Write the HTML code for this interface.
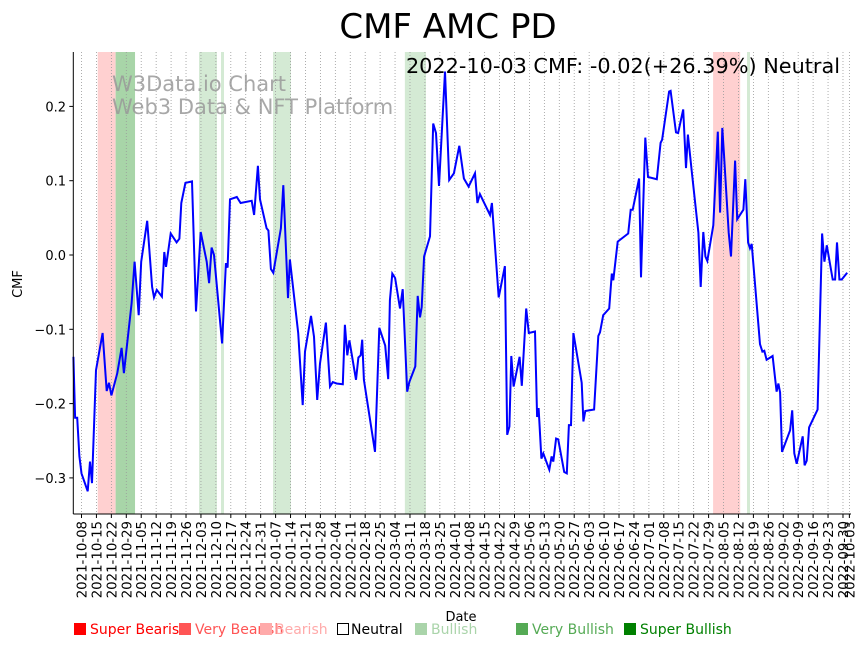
<!DOCTYPE html>
<html><head><meta charset="utf-8"><style>
body{margin:0;background:#fff;}
svg{display:block;font-family:"DejaVu Sans","Liberation Sans",sans-serif;}
</style></head><body>
<svg id="chart" width="867" height="646" viewBox="0 0 867 646">
<text x="448" y="38" font-size="34" text-anchor="middle">CMF AMC PD</text>
<g id="bands"></g>
<g id="grid"></g>
<g id="xticks"></g>
<g id="yticks"></g>
<path id="line" fill="none" stroke="#0000ff" stroke-width="2"/>
<line x1="73.3" y1="52" x2="73.3" y2="514" stroke="#000" stroke-width="1"/>
<line x1="73.3" y1="514" x2="851" y2="514" stroke="#000" stroke-width="1"/>
<text x="112" y="91" font-size="21" fill="#999" fill-opacity="0.85">W3Data.io Chart</text>
<text x="112" y="114" font-size="21" fill="#999" fill-opacity="0.85">Web3 Data &amp; NFT Platform</text>
<text x="840" y="73" font-size="20.8" text-anchor="end">2022-10-03 CMF: -0.02(+26.39%) Neutral</text>
<text transform="translate(22,284) rotate(-90)" font-size="13" text-anchor="middle">CMF</text>
<text x="461" y="621" font-size="13" text-anchor="middle">Date</text>
<g font-size="14">
<rect x="74" y="623" width="12" height="12" fill="#ff0000"/>
<text x="90" y="634" fill="#ff0000">Super Bearish</text>
<rect x="179" y="623" width="12" height="12" fill="#ff5555"/>
<text x="195" y="634" fill="#ff5555">Very Bearish</text>
<rect x="260" y="623" width="12" height="12" fill="#ffaaaa"/>
<text x="275" y="634" fill="#ffaaaa">Bearish</text>
<rect x="337.5" y="623.5" width="11" height="11" fill="#fff" stroke="#000"/>
<text x="351" y="634" fill="#000">Neutral</text>
<rect x="415" y="623" width="12" height="12" fill="#aad4aa"/>
<text x="431" y="634" fill="#aad4aa">Bullish</text>
<rect x="516" y="623" width="12" height="12" fill="#55aa55"/>
<text x="532" y="634" fill="#55aa55">Very Bullish</text>
<rect x="624" y="623" width="12" height="12" fill="#008000"/>
<text x="640" y="634" fill="#008000">Super Bullish</text>
</g>
</svg>
<script>
// days since 2021-10-08
const days = [-3.8,-3.0,-2.0,-1.0,0,2.9,4.0,4.9,6.8,9.9,11.8,12.9,14.0,16.8,18.8,19.9,23.5,24.9,26.8,28.0,30.8,33.1,34.0,35.3,37.7,38.8,39.6,41.8,44.6,45.9,46.8,48.7,51.8,53.7,55.9,58.7,59.8,61.0,62.1,65.9,67.7,68.5,69.6,72.8,74.6,79.8,80.9,82.7,83.7,86.8,87.6,88.8,89.9,93.5,94.6,96.8,97.7,101.6,103.7,104.8,107.6,109.0,110.5,111.8,114.6,116.5,117.8,119.6,122.5,123.5,124.6,125.6,128.7,129.8,130.9,131.6,132.4,137.6,139.6,142.4,143.8,144.6,145.7,147.0,149.3,150.6,152.7,153.7,156.5,157.6,158.7,159.5,160.6,163.4,164.9,166.2,167.6,170.4,172.4,174.6,177.1,179.3,181.5,184.5,185.6,186.8,191.5,192.4,195.6,198.5,199.6,200.6,201.5,202.6,205.4,206.4,208.5,209.7,212.6,213.6,214.3,215.6,216.5,219.3,220.4,221.2,222.5,223.5,226.3,227.5,228.5,229.5,230.6,234.5,235.3,236.2,240.3,242.3,243.1,244.6,247.4,248.6,249.3,251.4,256.3,257.5,258.4,261.4,262.3,264.3,265.6,269.7,271.5,272.2,275.5,276.2,278.7,279.7,282.1,283.4,284.3,286.1,289.2,290.3,291.5,292.5,293.4,296.2,298.3,299.4,300.4,301.2,303.4,304.5,306.4,307.4,310.3,311.2,312.5,313.4,314.2,318.1,319.2,320.1,321.2,324.0,325.9,326.7,327.5,328.4,332.2,333.2,334.2,335.3,338.1,339.0,340.0,341.1,345.1,347.2,348.3,349.4,352.2,353.3,354.2,355.3,356.4,359.0];
const cmf = [-0.137,-0.219,-0.219,-0.271,-0.294,-0.318,-0.278,-0.307,-0.155,-0.105,-0.183,-0.172,-0.189,-0.159,-0.125,-0.159,-0.065,-0.009,-0.081,-0.009,0.046,-0.043,-0.057,-0.047,-0.056,0.004,-0.016,0.029,0.017,0.022,0.070,0.097,0.099,-0.076,0.031,-0.009,-0.038,0.010,0.000,-0.119,-0.011,-0.017,0.075,0.078,0.070,0.073,0.054,0.120,0.075,0.036,0.033,-0.019,-0.024,0.036,0.094,-0.058,-0.006,-0.105,-0.202,-0.130,-0.082,-0.110,-0.195,-0.146,-0.091,-0.177,-0.171,-0.173,-0.174,-0.094,-0.135,-0.115,-0.168,-0.138,-0.135,-0.114,-0.168,-0.265,-0.098,-0.122,-0.167,-0.061,-0.025,-0.031,-0.072,-0.046,-0.184,-0.171,-0.150,-0.055,-0.084,-0.070,-0.002,0.025,0.177,0.164,0.093,0.247,0.101,0.110,0.147,0.103,0.092,0.110,0.070,0.082,0.054,0.070,-0.057,-0.015,-0.242,-0.231,-0.136,-0.177,-0.137,-0.176,-0.072,-0.105,-0.103,-0.218,-0.206,-0.274,-0.267,-0.289,-0.271,-0.278,-0.247,-0.248,-0.292,-0.294,-0.229,-0.229,-0.105,-0.172,-0.224,-0.210,-0.208,-0.109,-0.104,-0.081,-0.072,-0.025,-0.034,0.018,0.029,0.061,0.061,0.103,-0.030,0.158,0.105,0.102,0.151,0.155,0.220,0.221,0.165,0.164,0.196,0.117,0.162,0.112,0.030,-0.043,0.031,-0.002,-0.008,0.040,0.166,0.057,0.171,0.135,0.030,-0.002,0.127,0.048,0.061,0.102,0.017,0.009,0.015,-0.120,-0.130,-0.129,-0.141,-0.136,-0.184,-0.173,-0.185,-0.265,-0.236,-0.209,-0.267,-0.281,-0.244,-0.283,-0.277,-0.232,-0.208,0.029,-0.009,0.013,-0.033,-0.033,0.017,-0.033,-0.033,-0.024];
const tickDays = [0,7,14,21,28,35,42,49,56,63,70,77,84,91,98,105,112,119,126,133,140,147,154,161,168,175,182,189,196,203,210,217,224,231,238,245,252,259,266,273,280,287,294,301,308,315,322,329,336,343,350,357,360];
const tickLabels = ["2021-10-08","2021-10-15","2021-10-22","2021-10-29","2021-11-05","2021-11-12","2021-11-19","2021-11-26","2021-12-03","2021-12-10","2021-12-17","2021-12-24","2021-12-31","2022-01-07","2022-01-14","2022-01-21","2022-01-28","2022-02-04","2022-02-11","2022-02-18","2022-02-25","2022-03-04","2022-03-11","2022-03-18","2022-03-25","2022-04-01","2022-04-08","2022-04-15","2022-04-22","2022-04-29","2022-05-06","2022-05-13","2022-05-20","2022-05-27","2022-06-03","2022-06-10","2022-06-17","2022-06-24","2022-07-01","2022-07-08","2022-07-15","2022-07-22","2022-07-29","2022-08-05","2022-08-12","2022-08-19","2022-08-26","2022-09-02","2022-09-09","2022-09-16","2022-09-23","2022-09-30","2022-10-03"];
const yTicks = [0.2,0.1,0.0,-0.1,-0.2,-0.3];
const yTickLabels = ["0.2","0.1","0.0","−0.1","−0.2","−0.3"];
const bandStart = [7.6,16.0,55.1,65.4,89.8,151.6,296.1,312.0];
const bandEnd = [16.0,25.1,63.5,66.8,98.2,161.5,308.8,313.4];
const bandType = ["very-bearish","very-bullish","bullish","bullish","bullish","bullish","very-bearish","bullish"];

const NS="http://www.w3.org/2000/svg";
const X0=81.5, PXD=2.133, Y0=255, PXV=743, TOP=52, BOT=514;
function xs(d){return X0+d*PXD;}
function ys(v){return Y0-v*PXV;}
const bandColor={"very-bearish":"#ffd0d0","very-bullish":"#a8d5a8","bullish":"#d4ead4"};
const bands=document.getElementById('bands');
for(let i=0;i<bandStart.length;i++){
  const r=document.createElementNS(NS,'rect');
  
  
  r.setAttribute('x',xs(bandStart[i]));r.setAttribute('width',xs(bandEnd[i])-xs(bandStart[i]));
  r.setAttribute('y',TOP);r.setAttribute('height',BOT-TOP);
  r.setAttribute('fill',bandColor[bandType[i]]);
  bands.appendChild(r);
}
const grid=document.getElementById('grid'), xt=document.getElementById('xticks');
for(let i=0;i<tickDays.length;i++){
  const x=xs(tickDays[i]);
  const g=document.createElementNS(NS,'line');
  
  
  g.setAttribute('x1',x);g.setAttribute('x2',x);g.setAttribute('y1',TOP);g.setAttribute('y2',BOT);
  g.setAttribute('stroke','#999');g.setAttribute('stroke-width','0.8');g.setAttribute('stroke-dasharray','1,2');
  grid.appendChild(g);
  const t=document.createElementNS(NS,'line');
  
  
  t.setAttribute('x1',x);t.setAttribute('x2',x);t.setAttribute('y1',BOT);t.setAttribute('y2',BOT+4);
  t.setAttribute('stroke','#000');
  xt.appendChild(t);
  const l=document.createElementNS(NS,'text');
  
  
  l.setAttribute('transform','translate('+(x+5)+','+(BOT+7)+') rotate(-90)');
  l.setAttribute('font-size','13.3');l.setAttribute('text-anchor','end');
  l.textContent=tickLabels[i];
  xt.appendChild(l);
}
const yt=document.getElementById('yticks');
for(let i=0;i<yTicks.length;i++){
  const y=ys(yTicks[i]);
  const t=document.createElementNS(NS,'line');
  
  
  t.setAttribute('x1',69.3);t.setAttribute('x2',73.3);t.setAttribute('y1',y);t.setAttribute('y2',y);
  t.setAttribute('stroke','#000');
  yt.appendChild(t);
  const l=document.createElementNS(NS,'text');
  
  
  l.setAttribute('x',66);l.setAttribute('y',y+5);l.setAttribute('font-size','13');l.setAttribute('text-anchor','end');
  l.textContent=yTickLabels[i];
  yt.appendChild(l);
}
let d='';
for(let i=0;i<days.length;i++){d+=(i?'L':'M')+xs(days[i]).toFixed(1)+','+ys(cmf[i]).toFixed(1);}
document.getElementById('line').setAttribute('d',d);
</script>
</body></html>
